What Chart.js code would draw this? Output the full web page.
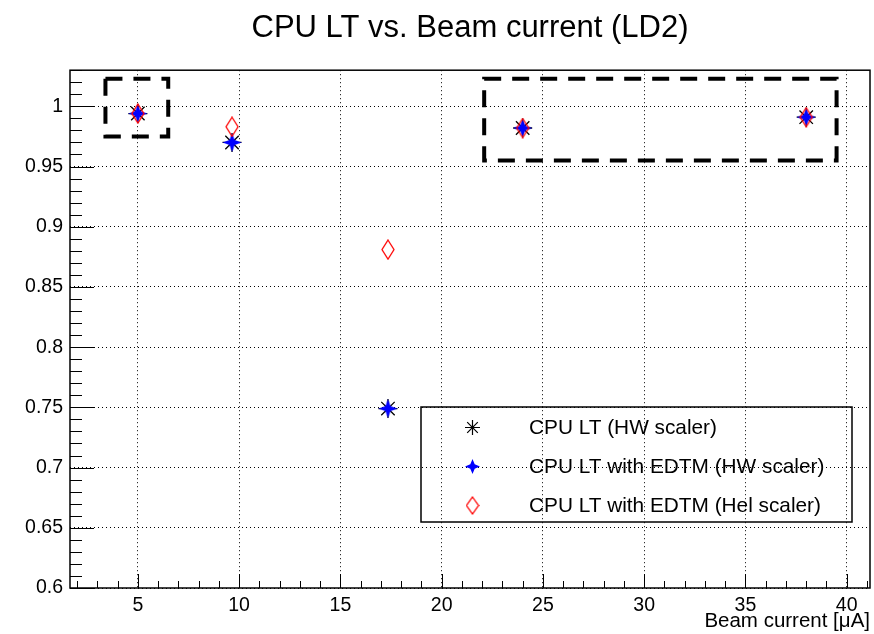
<!DOCTYPE html>
<html>
<head>
<meta charset="utf-8">
<script src="https://cdn.jsdelivr.net/npm/chart.js@4"></script>
<style>
  html, body { margin: 0; padding: 0; background: #fff; }
  #wrap { width: 874px; height: 634px; }
</style>
</head>
<body>
<div id="wrap"><canvas id="lt-chart" width="874" height="634"></canvas></div>
<script>
//Data
const beamCurrent = [5, 9.65, 17.35, 24, 38];
const cpuLtHw = [0.994, 0.970, 0.749, 0.982, 0.991];
const cpuLtEdtmHw = [0.994, 0.970, 0.749, 0.982, 0.991];
const cpuLtEdtmHel = [0.994, 0.983, 0.881, 0.982, 0.991];

const seriesNames = [
  "CPU LT (HW scaler)",
  "CPU LT with EDTM (HW scaler)",
  "CPU LT with EDTM (Hel scaler)"
];

const xTickValues = [5, 10, 15, 20, 25, 30, 35, 40];
const yTickValues = [0.6, 0.65, 0.7, 0.75, 0.8, 0.85, 0.9, 0.95, 1];

//Dashed boxes in data units
const boxX0 = [3.4, 22.1];
const boxX1 = [6.5, 39.5];
const boxY0 = [0.975, 0.955];
const boxY1 = [1.023, 1.023];

const FONT = "'Liberation Sans', Arial, Helvetica, sans-serif";

//Marker images
const makeStar = (r, ri) => {
  const size = Math.ceil(2 * r + 2);
  const c = document.createElement("canvas");
  c.width = size; c.height = size;
  const g = c.getContext("2d");
  const cx = size / 2, cy = size / 2;
  g.fillStyle = "#0000ff";
  g.beginPath();
  g.moveTo(cx, cy - r);
  g.lineTo(cx + ri, cy - ri);
  g.lineTo(cx + r, cy);
  g.lineTo(cx + ri, cy + ri);
  g.lineTo(cx, cy + r);
  g.lineTo(cx - ri, cy + ri);
  g.lineTo(cx - r, cy);
  g.lineTo(cx - ri, cy - ri);
  g.closePath();
  g.fill();
  return c;
};

const makeDiamond = (w, h) => {
  const c = document.createElement("canvas");
  c.width = w + 2; c.height = h + 2;
  const g = c.getContext("2d");
  g.strokeStyle = "#ff0000";
  g.lineWidth = 1.3;
  g.beginPath();
  g.moveTo(1 + w / 2, 1);
  g.lineTo(1 + w, 1 + h / 2);
  g.lineTo(1 + w / 2, 1 + h);
  g.lineTo(1, 1 + h / 2);
  g.closePath();
  g.stroke();
  return c;
};

const starImg = makeStar(9.5, 2.6);
const diamondImg = makeDiamond(12, 19);
const legendStarImg = makeStar(7.5, 2.2);
const legendDiamondImg = makeDiamond(12, 17);

const toPoints = (ys) => beamCurrent.map((x, i) => ({ x: x, y: ys[i] }));

const ltData = {
  datasets: [
    {
      label: seriesNames[0],
      data: toPoints(cpuLtHw),
      pointStyle: 'star',
      pointRadius: 9.5,
      borderColor: '#000000',
      backgroundColor: '#000000',
      pointBorderWidth: 1.3,
      showLine: false,
      order: 3
    },
    {
      label: seriesNames[1],
      data: toPoints(cpuLtEdtmHw),
      pointStyle: starImg,
      showLine: false,
      order: 2
    },
    {
      label: seriesNames[2],
      data: toPoints(cpuLtEdtmHel),
      pointStyle: diamondImg,
      showLine: false,
      order: 1
    }
  ]
};

const legendMarkers = [
  { pointStyle: 'star', radius: 7.5 },
  { pointStyle: legendStarImg, radius: 7 },
  { pointStyle: legendDiamondImg, radius: 7 }
];

//Frame, inner ticks, dashed boxes
const framePlugin = {
  id: 'frame',
  afterDatasetsDraw(chart) {
    const ctx = chart.ctx;
    const a = chart.chartArea;
    const xs = chart.scales.x;
    const ys = chart.scales.y;
    ctx.save();
    ctx.strokeStyle = '#000';
    ctx.setLineDash([]);

    //minor + major ticks
    ctx.lineWidth = 1;
    ctx.beginPath();
    for (let v = Math.ceil(xs.min); v <= xs.max; v++) {
      const px = Math.round(xs.getPixelForValue(v)) + 0.5;
      const len = xTickValues.includes(v) ? 14 : 7;
      ctx.moveTo(px, a.bottom);
      ctx.lineTo(px, a.bottom - len);
    }
    for (let k = Math.round(ys.min * 100); k <= Math.round(ys.max * 100); k++) {
      const py = Math.round(ys.getPixelForValue(k / 100)) + 0.5;
      const len = k % 5 === 0 ? 24 : 12;
      ctx.moveTo(a.left, py);
      ctx.lineTo(a.left + len, py);
    }
    ctx.stroke();

    //frame
    ctx.lineWidth = 1.5;
    ctx.strokeRect(a.left, a.top, a.right - a.left, a.bottom - a.top);

    //dashed boxes
    ctx.lineWidth = 4;
    ctx.setLineDash([17, 11]);
    for (let i = 0; i < boxX0.length; i++) {
      const x0 = xs.getPixelForValue(boxX0[i]);
      const x1 = xs.getPixelForValue(boxX1[i]);
      const y0 = ys.getPixelForValue(boxY1[i]);
      const y1 = ys.getPixelForValue(boxY0[i]);
      ctx.strokeRect(x0, y0, x1 - x0, y1 - y0);
    }
    ctx.restore();
  }
};

//Legend box inside the plot (transparent, like ROOT)
const legendPlugin = {
  id: 'rootLegend',
  afterDraw(chart) {
    const ctx = chart.ctx;
    const left = 421, top = 407, right = 852, bottom = 522;
    ctx.save();
    ctx.strokeStyle = '#000';
    ctx.lineWidth = 1.5;
    ctx.setLineDash([]);
    ctx.strokeRect(left, top, right - left, bottom - top);

    const rowY = [427.5, 466.5, 505.5];
    chart.data.datasets.forEach((ds, i) => {
      const style = {
        pointStyle: legendMarkers[i].pointStyle,
        radius: legendMarkers[i].radius,
        borderWidth: 1.2,
        rotation: 0
      };
      ctx.strokeStyle = ds.borderColor || '#000';
      ctx.fillStyle = ds.backgroundColor || '#000';
      ctx.lineWidth = style.borderWidth;
      Chart.helpers.drawPoint(ctx, style, 472.5, rowY[i]);
      ctx.fillStyle = '#000';
      ctx.font = "20.8px " + FONT;
      ctx.textAlign = 'left';
      ctx.textBaseline = 'middle';
      ctx.fillText(ds.label, 529, rowY[i] + 1);
    });
    ctx.restore();
  }
};

const ltOptions = {
  responsive: false,
  animation: false,
  events: [],
  layout: {
    autoPadding: false,
    padding: { left: 0, right: 4, top: 0, bottom: 0 }
  },
  scales: {
    x: {
      type: 'linear',
      min: 1.65,
      max: 41.15,
      afterFit: (scale) => { scale.height = 46; },
      afterBuildTicks: (scale) => { scale.ticks = xTickValues.map(v => ({ value: v })); },
      grid: {
        color: '#000',
        lineWidth: 1,
        drawTicks: false
      },
      border: { display: false, dash: [1, 3] },
      ticks: {
        color: '#000',
        padding: 6,
        font: { family: FONT, size: 19.5 },
        maxRotation: 0,
        callback: (v) => String(v)
      },
      title: {
        display: true,
        text: 'Beam current [\u03bcA]',
        align: 'end',
        color: '#000',
        padding: 0,
        font: { family: FONT, size: 20.5 }
      }
    },
    y: {
      type: 'linear',
      min: 0.6,
      max: 1.03,
      afterFit: (scale) => { scale.width = 70; },
      afterBuildTicks: (scale) => { scale.ticks = yTickValues.map(v => ({ value: v })); },
      grid: {
        color: '#000',
        lineWidth: 1,
        drawTicks: false
      },
      border: { display: false, dash: [1, 3] },
      ticks: {
        color: '#000',
        padding: 7,
        font: { family: FONT, size: 19.5 },
        callback: (v) => String(+v.toFixed(2))
      }
    }
  },
  plugins: {
    legend: { display: false },
    tooltip: { enabled: false },
    title: {
      display: true,
      fullSize: false,
      text: 'CPU LT vs. Beam current (LD2)',
      color: '#000',
      font: { family: FONT, size: 31, weight: 'normal', lineHeight: 1.2 },
      padding: { top: 10, bottom: 23 }
    }
  }
};

let ltChart = new Chart(document.getElementById("lt-chart"), {
  type: 'scatter',
  data: ltData,
  options: ltOptions,
  plugins: [framePlugin, legendPlugin]
});
</script>
</body>
</html>
